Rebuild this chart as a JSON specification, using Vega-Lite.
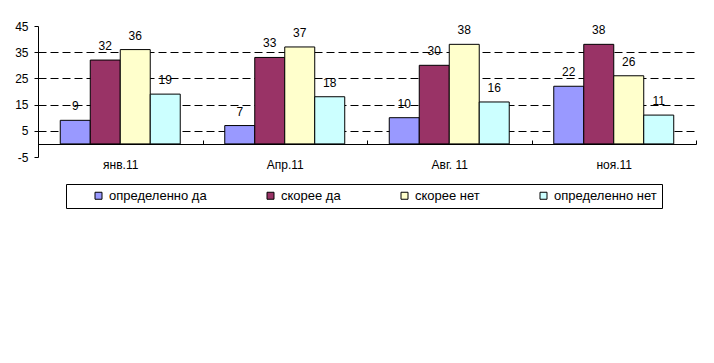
{
  "$schema": "https://vega.github.io/schema/vega-lite/v6.json",
  "width": 658,
  "height": 131,
  "autosize": "none",
  "padding": {"left": 38, "top": 26, "right": 18, "bottom": 206},
  "background": "white",
  "config": {"view": {"stroke": null}},
  "data": {
    "values": [
      {"period": "янв.11", "answer": "определенно да", "value": 9},
      {"period": "янв.11", "answer": "скорее да", "value": 32},
      {"period": "янв.11", "answer": "скорее нет", "value": 36},
      {"period": "янв.11", "answer": "определенно нет", "value": 19},
      {"period": "Апр.11", "answer": "определенно да", "value": 7},
      {"period": "Апр.11", "answer": "скорее да", "value": 33},
      {"period": "Апр.11", "answer": "скорее нет", "value": 37},
      {"period": "Апр.11", "answer": "определенно нет", "value": 18},
      {"period": "Авг. 11", "answer": "определенно да", "value": 10},
      {"period": "Авг. 11", "answer": "скорее да", "value": 30},
      {"period": "Авг. 11", "answer": "скорее нет", "value": 38},
      {"period": "Авг. 11", "answer": "определенно нет", "value": 16},
      {"period": "ноя.11", "answer": "определенно да", "value": 22},
      {"period": "ноя.11", "answer": "скорее да", "value": 38},
      {"period": "ноя.11", "answer": "скорее нет", "value": 26},
      {"period": "ноя.11", "answer": "определенно нет", "value": 11}
    ]
  },
  "encoding": {
    "x": {
      "field": "period", "type": "nominal", "sort": null,
      "scale": {"paddingInner": 0, "paddingOuter": 0},
      "axis": {
        "title": null, "offset": -13, "domainColor": "black", "tickColor": "black",
        "tickSize": -4, "tickBand": "extent", "labelAngle": 0,
        "labelFont": "Liberation Sans", "labelFontSize": 12, "labelColor": "black",
        "labelPadding": 19, "grid": false
      }
    },
    "xOffset": {
      "field": "answer", "type": "nominal",
      "sort": ["определенно да", "скорее да", "скорее нет", "определенно нет"],
      "scale": {"paddingInner": 0, "paddingOuter": 0.742}
    },
    "y": {
      "field": "value", "type": "quantitative",
      "scale": {"domain": [-5, 45], "nice": false, "zero": false},
      "axis": {
        "title": null, "values": [-5, 5, 15, 25, 35, 45],
        "labelExpr": "'' + datum.value",
        "domainColor": "black", "tickColor": "black", "tickSize": 4,
        "labelFont": "Liberation Sans", "labelFontSize": 12, "labelColor": "black",
        "labelPadding": 6, "grid": true, "gridColor": "black", "gridDash": [8, 4],
        "gridOpacity": {"condition": {"test": "datum.value === -5 || datum.value === 45", "value": 0}, "value": 1}
      }
    }
  },
  "layer": [
    {
      "mark": {"type": "bar", "stroke": "black", "strokeWidth": 1},
      "encoding": {
        "y2": {"datum": 0},
        "color": {
          "field": "answer", "type": "nominal",
          "scale": {
            "domain": ["определенно да", "скорее да", "скорее нет", "определенно нет"],
            "range": ["#9999FF", "#993366", "#FFFFCC", "#CCFFFF"]
          },
          "legend": {
            "orient": "none", "legendX": 28, "legendY": 158,
            "direction": "horizontal", "columns": 4,
            "title": " ", "titleOrient": "left", "titlePadding": 21, "titleFontSize": 12,
            "symbolType": "square", "symbolSize": 49, "symbolStrokeColor": "black",
            "symbolStrokeWidth": 1, "symbolOpacity": 1,
            "labelFont": "Liberation Sans", "labelFontSize": 13, "labelColor": "black",
            "labelOffset": 4, "columnPadding": 57, "padding": 5,
            "strokeColor": "black", "fillColor": "white"
          }
        }
      }
    },
    {
      "mark": {"type": "text", "dy": -10, "baseline": "alphabetic", "fontSize": 12, "font": "Liberation Sans", "color": "black"},
      "encoding": {"text": {"field": "value", "type": "quantitative"}}
    }
  ]
}
